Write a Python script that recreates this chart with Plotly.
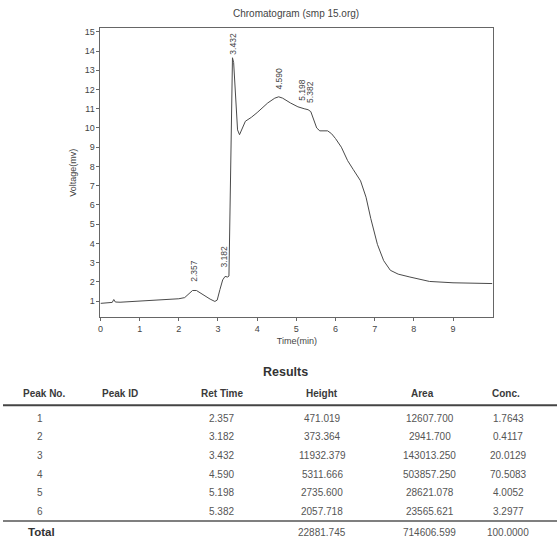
import plotly.graph_objects as go

W, H = 557, 540

# ---- chromatogram trace ----
time_min = [0.00, 0.30, 0.34, 0.38, 0.50, 1.00, 1.50, 2.00, 2.15, 2.25, 2.35, 2.45, 2.60, 2.80, 2.92,
            2.98, 3.05, 3.12, 3.18, 3.25, 3.28, 3.33, 3.37, 3.40, 3.45, 3.50, 3.55, 3.62, 3.70, 3.85,
            4.00, 4.27, 4.45, 4.55, 4.65, 4.85, 5.04, 5.20, 5.30, 5.37, 5.45, 5.52, 5.60, 5.80, 5.90,
            6.00, 6.15, 6.31, 6.45, 6.64, 6.78, 6.90, 7.07, 7.23, 7.40, 7.60, 7.90, 8.40, 9.00, 9.50, 10.0]
voltage = [0.88, 0.93, 1.08, 0.95, 0.94, 1.00, 1.06, 1.12, 1.18, 1.35, 1.55, 1.55, 1.35, 1.10, 0.98,
           1.05, 1.60, 2.10, 2.28, 2.25, 2.30, 10.0, 13.65, 13.4, 11.5, 9.9, 9.65, 10.0, 10.35, 10.55,
           10.80, 11.30, 11.55, 11.62, 11.55, 11.30, 11.10, 11.00, 10.95, 10.85, 10.40, 10.00, 9.85, 9.85, 9.70,
           9.45, 9.00, 8.30, 7.85, 7.25, 6.40, 5.30, 3.95, 3.10, 2.60, 2.40, 2.25, 2.02, 1.95, 1.93, 1.91]

# ---- peak labels ----
peak_times = [2.357, 3.182, 3.432, 4.590, 5.198, 5.382]
peak_label_x = [2.39, 3.16, 3.38, 4.56, 5.14, 5.35]
peak_label_y = [1.90, 2.65, 13.7, 11.9, 11.3, 11.2]

# ---- results table ----
table_headers = ["Peak No.", "Peak ID", "Ret Time", "Height", "Area", "Conc."]
peak_no = ["1", "2", "3", "4", "5", "6"]
ret_time = ["2.357", "3.182", "3.432", "4.590", "5.198", "5.382"]
height = ["471.019", "373.364", "11932.379", "5311.666", "2735.600", "2057.718"]
area = ["12607.700", "2941.700", "143013.250", "503857.250", "28621.078", "23565.621"]
conc = ["1.7643", "0.4117", "20.0129", "70.5083", "4.0052", "3.2977"]
total_label = "Total"
total_height = "22881.745"
total_area = "714606.599"
total_conc = "100.0000"


def px(x):
    return x / W


def py(y):
    return 1 - y / H


fig = go.Figure()
fig.add_trace(go.Scatter(x=time_min, y=voltage, mode="lines",
                         line=dict(color="#4a4a4a", width=1), hoverinfo="skip",
                         showlegend=False))

axis_font = dict(family="Liberation Sans, Arial, sans-serif", size=9, color="#444")

fig.update_layout(
    width=W, height=H,
    margin=dict(l=0, r=0, t=0, b=0),
    paper_bgcolor="white", plot_bgcolor="white",
    showlegend=False,
    xaxis=dict(domain=[px(98), px(493)], range=[0, 10.03],
               tickvals=list(range(0, 10)), ticks="outside", ticklen=3, tickcolor="#666",
               showgrid=False, zeroline=False, showline=True, mirror=True,
               linecolor="#666", linewidth=1, tickfont=axis_font,
               title=dict(text="Time(min)", font=axis_font, standoff=4)),
    yaxis=dict(domain=[py(317), py(27)], range=[0.15, 15.2],
               tickvals=list(range(1, 16)), ticks="outside", ticklen=3, tickcolor="#666",
               showgrid=False, zeroline=False, showline=True, mirror=True,
               linecolor="#666", linewidth=1, tickfont=axis_font,
               title=dict(text="Voltage(mv)", font=axis_font, standoff=6)),
)

anns = []
anns.append(dict(text="Chromatogram (smp 15.org)", x=px(295), y=py(13), xref="paper", yref="paper",
                 showarrow=False, xanchor="center", yanchor="middle",
                 font=dict(family="Liberation Sans, Arial, sans-serif", size=10, color="#444")))

for lab, lx, ly in zip(peak_times, peak_label_x, peak_label_y):
    anns.append(dict(text=f"{lab:.3f}", x=lx, y=ly, xref="x", yref="y", showarrow=False,
                     textangle=-90, xanchor="center", yanchor="bottom",
                     font=dict(family="Liberation Sans, Arial, sans-serif", size=8.5, color="#444")))

tfont_head = dict(family="Liberation Sans, Arial, sans-serif", size=10, color="#3a3a3a")
tfont_val = dict(family="Liberation Sans, Arial, sans-serif", size=10, color="#555")

anns.append(dict(text="<b>Results</b>", x=px(284), y=py(372), xref="paper", yref="paper",
                 showarrow=False, xanchor="center", yanchor="middle",
                 font=dict(family="Liberation Sans, Arial, sans-serif", size=12.5, color="#333")))

head_x = [41, 118, 220, 321, 422, 506]
for h, hx in zip(table_headers, head_x):
    anns.append(dict(text=f"<b>{h}</b>", x=px(hx), y=py(393), xref="paper", yref="paper",
                     showarrow=False, xanchor="center", yanchor="middle", font=tfont_head))

row_y0, row_dy = 418, 18.7
col_specs = [(peak_no, 37), (ret_time, 220), (height, 321), (area, 429), (conc, 508)]
for i in range(len(peak_no)):
    ry = row_y0 + i * row_dy
    for col, cx in col_specs:
        anns.append(dict(text=col[i], x=px(cx), y=py(ry), xref="paper", yref="paper",
                         showarrow=False, xanchor="center", yanchor="middle", font=tfont_val))

anns.append(dict(text=f"<b>{total_label}</b>", x=px(23), y=py(532), xref="paper", yref="paper",
                 showarrow=False, xanchor="left", yanchor="middle",
                 font=dict(family="Liberation Sans, Arial, sans-serif", size=11.5, color="#333")))
for val, cx in [(total_height, 321), (total_area, 429), (total_conc, 508)]:
    anns.append(dict(text=val, x=px(cx), y=py(532), xref="paper", yref="paper",
                     showarrow=False, xanchor="center", yanchor="middle", font=tfont_val))

fig.update_layout(annotations=anns)

fig.update_layout(shapes=[
    dict(type="line", xref="paper", yref="paper", x0=px(0), x1=px(557), y0=py(405), y1=py(405),
         line=dict(color="#444", width=2.2)),
    dict(type="line", xref="paper", yref="paper", x0=px(0), x1=px(557), y0=py(521), y1=py(521),
         line=dict(color="#555", width=1.5)),
])

# remove the default 8px page margin so the figure fills the window exactly
fig.write_html("out.html",
               config={"displayModeBar": False},
               post_script="document.body.style.margin='0';document.body.style.overflow='hidden';")
